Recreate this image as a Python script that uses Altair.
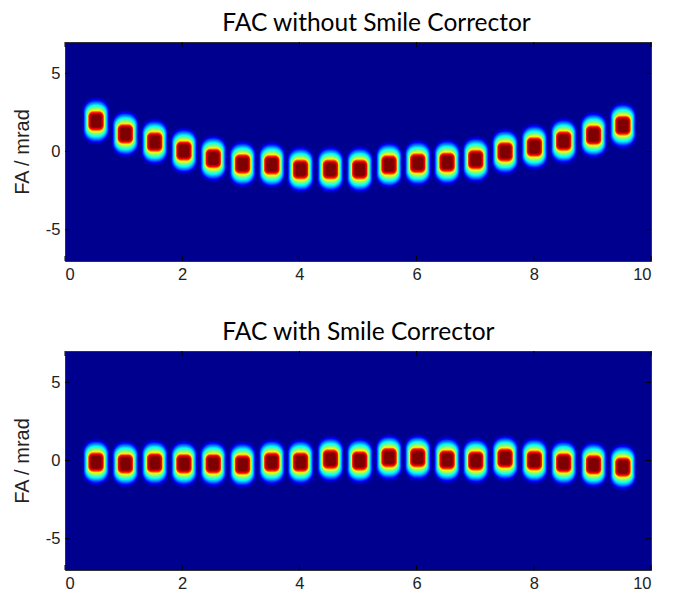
import altair as alt
import numpy as np
import pandas as pd

# ---- data ----
x_pos = [0.53, 1.03, 1.53, 2.03, 2.53, 3.03, 3.53, 4.02, 4.53, 5.03,
         5.53, 6.02, 6.52, 7.01, 7.51, 8.01, 8.51, 9.02, 9.52]
fa_without = [1.95, 1.13, 0.61, 0.04, -0.44, -0.80, -0.86, -1.15, -1.15, -1.15,
              -0.86, -0.75, -0.69, -0.52, -0.02, 0.29, 0.67, 1.05, 1.66]
fa_with = [-0.10, -0.21, -0.15, -0.21, -0.21, -0.27, -0.10, -0.10, 0.08, -0.02,
           0.19, 0.19, 0.04, -0.02, 0.15, 0.00, -0.15, -0.27, -0.42]
x_ticks = [0, 2, 4, 6, 8, 10]
y_ticks = [-5, 0, 5]
titles = ["FAC without Smile Corrector", "FAC with Smile Corrector"]

# ---- styling ----
W, H = 586, 219
X_DOM, Y_DOM = [0, 10], [-7, 7]
px_x = W / (X_DOM[1] - X_DOM[0])
px_y = H / (Y_DOM[1] - Y_DOM[0])
# blob contour stops: level, half-width px, half-height px
stop_t = [0.03, 0.125, 0.375, 0.625, 0.875, 0.95, 1.0]
stop_hw = [14.0, 12.5, 10.0, 8.0, 7.0, 6.0, 5.0]
stop_hh = [24.0, 21.0, 16.0, 10.5, 8.3, 7.0, 6.2]
round_t = [0.03, 0.5, 1.0]
round_k = [0.95, 0.8, 0.45]
levels = np.linspace(0.03, 1.0, 36)
BG = "#00008F"
TXT = "#222222"


def jet(t):
    r = min(max(1.5 - abs(4 * t - 3), 0), 1)
    g = min(max(1.5 - abs(4 * t - 2), 0), 1)
    b = min(max(1.5 - abs(4 * t - 1), 0), 1)
    return "#%02x%02x%02x" % (int(r * 255), int(g * 255), int(b * 255))


xs = alt.Scale(domain=X_DOM, nice=False, zero=False)
ys = alt.Scale(domain=Y_DOM, nice=False, zero=False)
LBL = "datum.value + ''"
ax_x = alt.Axis(values=x_ticks, title=None, labelExpr=LBL)
ax_y = alt.Axis(values=y_ticks, title="FA / mrad", labelExpr=LBL)


def panel(vals, title):
    base = pd.DataFrame({"x": x_pos, "fa": vals})
    layers = []
    for i, t in enumerate(levels):
        hw = float(np.interp(t, stop_t, stop_hw))
        hh = float(np.interp(t, stop_t, stop_hh))
        r = float(np.interp(t, round_t, round_k)) * min(hw, hh)
        d = base.copy()
        d["x1"] = d["x"] - hw / px_x
        d["x2"] = d["x"] + hw / px_x
        d["y1"] = d["fa"] - hh / px_y
        d["y2"] = d["fa"] + hh / px_y
        layers.append(
            alt.Chart(d).mark_rect(color=jet(t), cornerRadius=r, strokeWidth=0).encode(
                x=alt.X("x1:Q", scale=xs, axis=ax_x),
                x2="x2:Q",
                y=alt.Y("y1:Q", scale=ys, axis=ax_y),
                y2="y2:Q",
            )
        )
    xt = pd.DataFrame({"v": x_ticks})
    yt = pd.DataFrame({"v": y_ticks})
    tick_style = dict(color="black", strokeWidth=1)
    layers += [
        alt.Chart(xt).mark_rule(**tick_style).encode(
            x=alt.X("v:Q", scale=xs, axis=ax_x), y=alt.value(0), y2=alt.value(5)),
        alt.Chart(xt).mark_rule(**tick_style).encode(
            x=alt.X("v:Q", scale=xs, axis=ax_x), y=alt.value(H - 5), y2=alt.value(H)),
        alt.Chart(yt).mark_rule(**tick_style).encode(
            y=alt.Y("v:Q", scale=ys, axis=ax_y), x=alt.value(0), x2=alt.value(5)),
        alt.Chart(yt).mark_rule(**tick_style).encode(
            y=alt.Y("v:Q", scale=ys, axis=ax_y), x=alt.value(W - 5), x2=alt.value(W)),
    ]
    return alt.layer(*layers).properties(
        width=W, height=H,
        title=alt.TitleParams(title, anchor="start", dx=210, font="Lato", fontSize=24.5,
                              fontWeight="normal", color="black", offset=5),
    )


chart = alt.vconcat(panel(fa_without, titles[0]), panel(fa_with, titles[1]), spacing=36).properties(
    padding={"left": 3, "top": 2, "right": 5, "bottom": 0}
).configure_view(
    fill=BG, stroke="#333333", strokeWidth=1
).configure_axis(
    grid=False, domain=False, ticks=False,
    labelFont="Liberation Sans", labelFontSize=16.5, labelColor=TXT, labelPadding=5,
    titleFont="Liberation Sans", titleFontSize=20, titleFontWeight="normal",
    titleColor=TXT, titlePadding=13,
)

chart.save("out.html", embed_options={"renderer": "svg", "actions": False})
